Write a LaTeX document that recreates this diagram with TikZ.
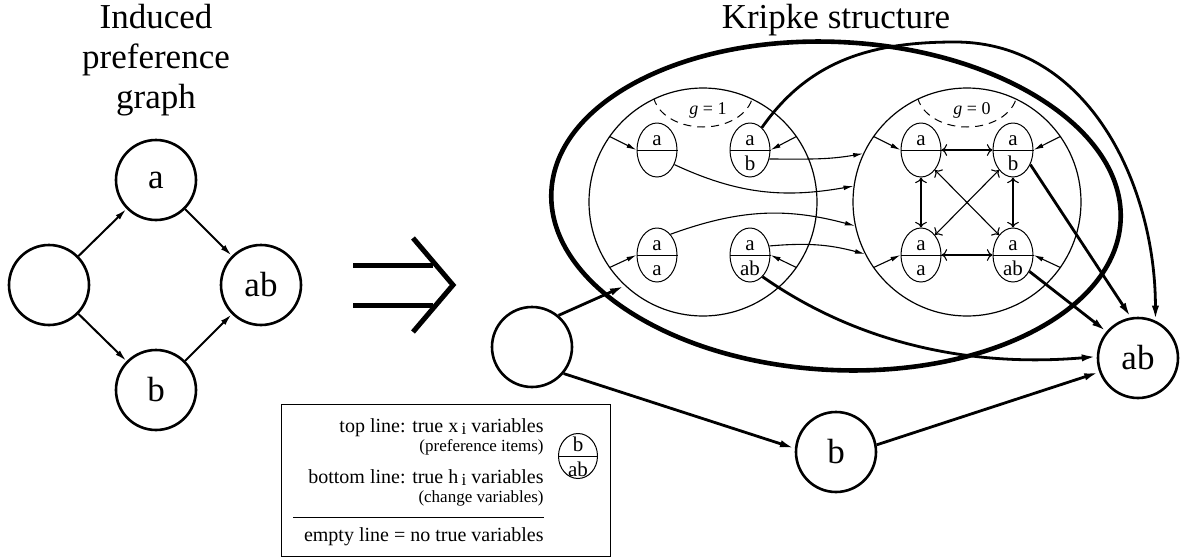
\documentclass[tikz,border=0pt]{standalone}
\usepackage{fontspec}
\setmainfont{Liberation Serif}
\usetikzlibrary{shapes.geometric, arrows.meta}

\tikzset{
	bignode/.style={circle, draw, line width=1.3pt, minimum size=40pt, inner sep=0pt,
		font=\fontsize{17.5}{20}\selectfont},
	group/.style={circle, draw, line width=0.6pt, minimum size=114pt, inner sep=0pt},
	state/.style={ellipse, draw, line width=0.5pt, minimum width=20pt, minimum height=27pt, inner sep=0pt},
	statelabel/.style={inner sep=0pt, font=\fontsize{10.5}{12}\selectfont},
	graphedge/.style={line width=1pt, -{Latex[length=6pt,width=3pt]}},
	thinedge/.style={line width=0.55pt, -{Latex[length=5pt,width=2.4pt]}},
	thickedge/.style={line width=1.4pt, -{Latex[length=7.5pt,width=3.6pt]}},
	legendtext/.style={anchor=base east, inner sep=0pt, font=\fontsize{10}{12}\selectfont},
	legendsmall/.style={anchor=base east, inner sep=0pt, font=\fontsize{8.5}{10}\selectfont}
}

% state with a top line and a bottom line
\newcommand\kstate[5][]{%
	\node[state, #1] (#2) at (#3) {};
	\draw (#2.west) -- (#2.east);
	\node[statelabel, anchor=base] (#2-top) at ([yshift=2.5pt]#2.center) {#4};
	\node[statelabel, anchor=base] (#2-bot) at ([yshift=-10pt]#2.center) {#5};
}

% lowered index in the legend
\newcommand\lowidx[1]{\,\raisebox{-0.3ex}{\fontsize{8.5}{10}\selectfont #1}}

\begin{document}
\begin{tikzpicture}[x=0.5pt, y=0.5pt]
	\useasboundingbox (0,0) rectangle (1185,-558);

	% induced preference graph
	\node (ltitle) at (156,-4) [anchor=north, align=center, inner sep=0pt,
		font=\fontsize{17.5}{20}\selectfont] {Induced\\preference\\graph};

	\node[bignode] (L0) at (49,-285) {};
	\node[bignode] (La) at (156,-180) {a};
	\node[bignode] (Lb) at (156,-390) {b};
	\node[bignode] (Lab) at (261,-285) {ab};

	\draw[graphedge] (L0) -- (La);
	\draw[graphedge] (L0) -- (Lb);
	\draw[graphedge] (La) -- (Lab);
	\draw[graphedge] (Lb) -- (Lab);

	% implies
	\draw
		[line width=2.5pt] (353,-265) -- (433,-265)
		(353,-305) -- (433,-305);

	\draw
		[line width=2.5pt] (413,-238) -- (453,-285) -- (413,-332);

	% kripke structure
	\node (rtitle) at (836,-4) [anchor=north, inner sep=0pt,
		font=\fontsize{17.5}{20}\selectfont] {Kripke structure};

	\draw
		[line width=2.3pt, rotate around={-3:(836,-206)}] (836,-206) ellipse [x radius=285, y radius=164];

	\node[group] (g1) at (703,-202) {};
	\node[group] (g0) at (967,-202) {};

	\foreach \cx/\gv in {703/1, 967/0} {
		\begin{scope}
			\clip (\cx,-202) circle [radius=114];
			\draw[line width=0.5pt, dash pattern=on 4pt off 3pt] (\cx,-92) ellipse [x radius=50, y radius=35];
		\end{scope}
		\node (glabel\gv) at (\cx+5,-110) [inner sep=0pt, font=\fontsize{9}{10}\selectfont] {\textit{g} = \gv};
	}

	\kstate{A1}{657,-150}{a}{}
	\kstate{B1}{750,-150}{a}{b}
	\kstate{C1}{657,-255}{a}{a}
	\kstate{D1}{750,-255}{a}{ab}

	\kstate{A0}{921,-150}{a}{}
	\kstate{B0}{1013,-150}{a}{b}
	\kstate{C0}{921,-255}{a}{a}
	\kstate{D0}{1013,-255}{a}{ab}

	\foreach \g/\a/\b/\c/\d in {g1/A1/B1/C1/D1, g0/A0/B0/C0/D0} {
		\draw[thinedge] (\g.145) -- (\a.west);
		\draw[thinedge] (\g.35) -- (\b.east);
		\draw[thinedge] (\g.215) -- (\c.west);
		\draw[thinedge] (\g.-35) -- (\d.east);
	}

	\draw[thinedge, <->] (A0.east) -- (B0.west);
	\draw[thinedge, <->] (C0.east) -- (D0.west);
	\draw[thinedge, <->] (A0.south) -- (C0.north);
	\draw[thinedge, <->] (B0.south) -- (D0.north);
	\draw[thinedge, <->] (A0.-55) -- (D0.125);
	\draw[thinedge, <->] (B0.-125) -- (C0.55);

	\draw[thinedge] (B1.-25) to[out=0, in=190] (g0.155);
	\draw[thinedge] (A1.-40) to[out=-25, in=190] (g0.172);
	\draw[thinedge] (C1.57) to[out=20, in=165] (g0.192);
	\draw[thinedge] (D1.25) to[out=5, in=165] (g0.207);

	\node[bignode] (R0) at (532,-347) {};
	\node[bignode] (Rb) at (836,-452) {b};
	\node[bignode] (Rab) at (1138,-358) {ab};

	\coordinate (peak) at (955,-42);

	\draw[thickedge] (B1.62) to[out=55, in=180] (peak) to[out=0, in=90] (Rab.65);
	\draw[thickedge] (B0.-40) -- (Rab.100);
	\draw[thickedge] (D0.-45) -- (Rab.140);
	\draw[thickedge] (D1.-60) to[out=-35, in=185, looseness=0.9] (Rab.178);
	\draw[thickedge] (R0.50) -- (g1.227);
	\draw[thickedge] (R0.-40) -- (Rb.175);
	\draw[thickedge] (Rb.10) -- (Rab.200);

	% legend
	\draw[line width=0.5pt] (281,-404) rectangle (610,-556);

	\node[legendtext] (leg1) at (544,-432) {top line: true x\lowidx{i} variables};
	\node[legendsmall] (leg2) at (544,-451) {(preference items)};
	\node[legendtext] (leg3) at (544,-483) {bottom line: true h\lowidx{i} variables};
	\node[legendsmall] (leg4) at (544,-502) {(change variables)};
	\node[legendtext] (leg5) at (544,-541) {empty line = no true variables};

	\draw[line width=0.5pt] (293,-517) -- (544,-517);

	\kstate[minimum width=19.5pt, minimum height=22.5pt]{LG}{578,-456}{b}{ab}
\end{tikzpicture}
\end{document}
